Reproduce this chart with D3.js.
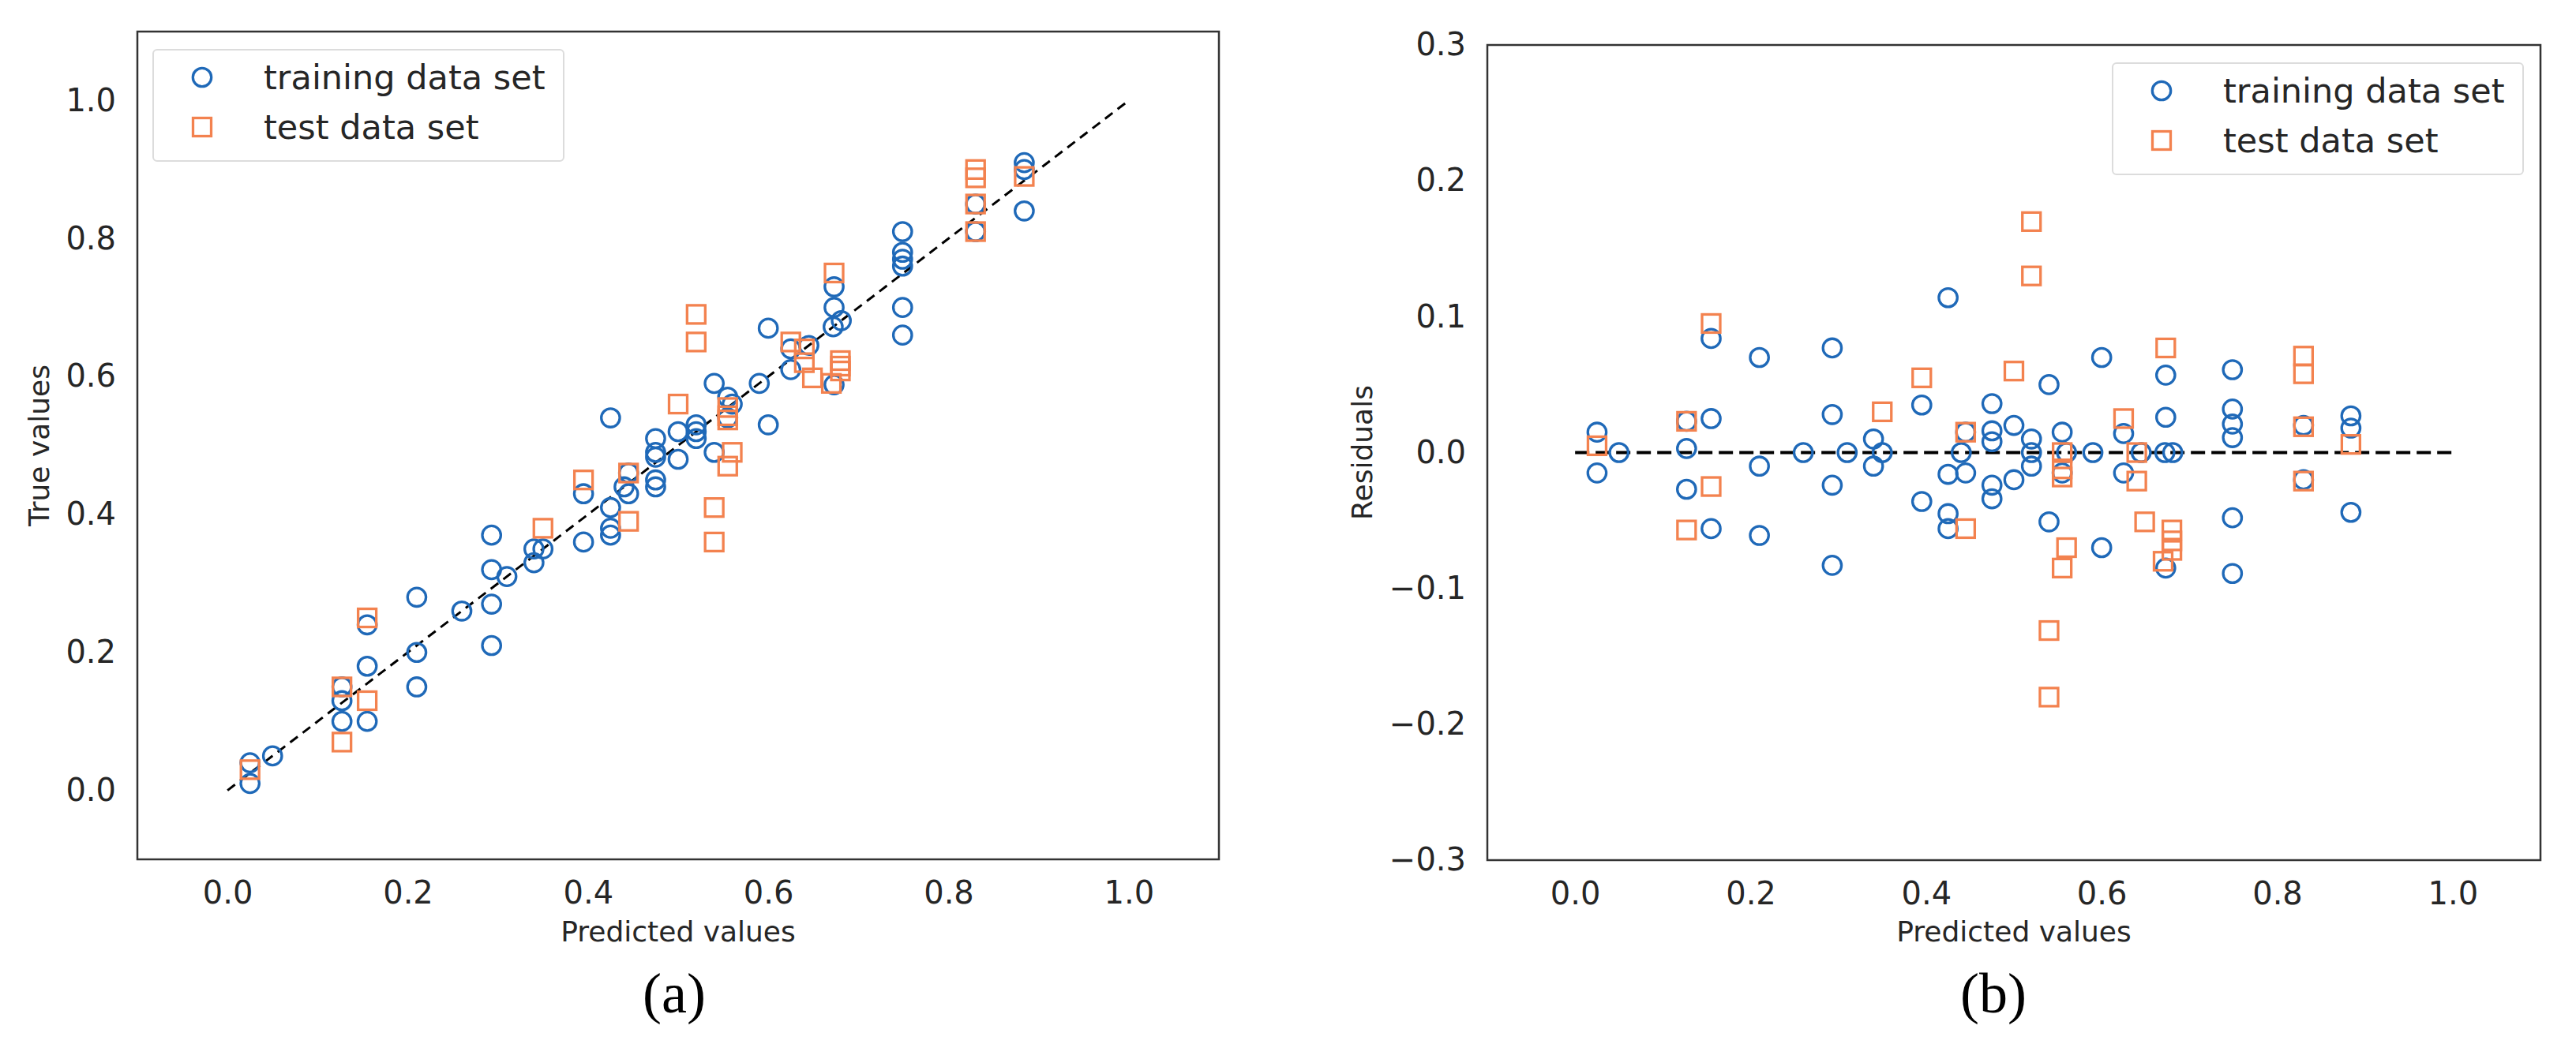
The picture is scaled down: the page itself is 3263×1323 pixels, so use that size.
<!DOCTYPE html>
<html>
<head>
<meta charset="utf-8">
<script src="https://cdn.jsdelivr.net/npm/d3@7"></script>
<style>
  body { margin: 0; background: #fff; }
</style>
</head>
<body>
<div id="container"></div>
<script>
// values: predicted value, true value, residual (true - predicted)

/* TRAINING DATA SET (circles) */
const trainPred = [0.025, 0.025, 0.05, 0.127, 0.127, 0.127, 0.155, 0.155, 0.155, 0.21,
  0.21, 0.21, 0.26, 0.293, 0.293, 0.293, 0.293, 0.31, 0.34, 0.34,
  0.35, 0.395, 0.395, 0.425, 0.425, 0.425, 0.425, 0.445, 0.44, 0.445,
  0.475, 0.475, 0.475, 0.475, 0.475, 0.50, 0.50, 0.52, 0.52, 0.52,
  0.54, 0.54, 0.555, 0.56, 0.555, 0.59, 0.60, 0.60, 0.625, 0.625,
  0.645, 0.673, 0.673, 0.672, 0.681, 0.673, 0.749, 0.749, 0.749, 0.749,
  0.749, 0.749, 0.83, 0.83, 0.884, 0.884, 0.884]
const trainTrue = [0.01, 0.04, 0.05, 0.15, 0.13, 0.10, 0.10, 0.18, 0.24, 0.28,
  0.20, 0.15, 0.26, 0.37, 0.32, 0.27, 0.21, 0.31, 0.35, 0.33,
  0.35, 0.43, 0.36, 0.54, 0.41, 0.38, 0.37, 0.46, 0.44, 0.43,
  0.51, 0.49, 0.483, 0.45, 0.44, 0.52, 0.48, 0.53, 0.52, 0.51,
  0.59, 0.49, 0.57, 0.56, 0.54, 0.59, 0.67, 0.53, 0.64, 0.61,
  0.645, 0.73, 0.70, 0.672, 0.681, 0.588, 0.81, 0.78, 0.77, 0.76,
  0.70, 0.66, 0.85, 0.81, 0.91, 0.90, 0.84]
const trainResid = [-0.015, 0.015, 0.0, 0.023, 0.003, -0.027, -0.056, 0.025, 0.084, 0.07,
  -0.01, -0.061, 0.0, 0.077, 0.028, -0.024, -0.083, 0.0, 0.01, -0.01,
  0.0, 0.035, -0.036, 0.114, -0.016, -0.045, -0.056, 0.015, 0.0, -0.015,
  0.036, 0.016, 0.008, -0.024, -0.034, 0.02, -0.02, 0.01, 0.0, -0.01,
  0.05, -0.051, 0.015, 0.0, -0.015, 0.0, 0.07, -0.07, 0.014, -0.015,
  0.0, 0.057, 0.026, 0.0, 0.0, -0.085, 0.061, 0.032, 0.021, 0.011,
  -0.048, -0.089, 0.02, -0.02, 0.027, 0.018, -0.044]

/* TEST DATA SET (squares) */
const testPred = [0.025, 0.127, 0.127, 0.155, 0.155, 0.35, 0.395, 0.445, 0.445, 0.50,
  0.52, 0.52, 0.54, 0.54, 0.555, 0.555, 0.555, 0.56, 0.555, 0.625,
  0.64, 0.64, 0.649, 0.673, 0.67, 0.68, 0.68, 0.68, 0.83, 0.83,
  0.83, 0.83, 0.884]
const testTrue = [0.03, 0.15, 0.07, 0.13, 0.25, 0.38, 0.45, 0.46, 0.39, 0.56,
  0.69, 0.65, 0.41, 0.36, 0.555, 0.543, 0.537, 0.49, 0.47, 0.65,
  0.64, 0.62, 0.598, 0.75, 0.59, 0.623, 0.615, 0.608, 0.90, 0.888,
  0.85, 0.81, 0.89]
const testResid = [0.005, 0.023, -0.057, -0.025, 0.095, 0.03, 0.055, 0.015, -0.056, 0.06,
  0.17, 0.13, -0.131, -0.18, 0.0, -0.012, -0.018, -0.07, -0.085, 0.025,
  0.0, -0.021, -0.051, 0.077, -0.08, -0.057, -0.065, -0.072, 0.071, 0.058,
  0.019, -0.021, 0.006]

/* TICKS AND LABELS */
const xTicks = [0, 0.2, 0.4, 0.6, 0.8, 1.0]
const trueTicks = [0, 0.2, 0.4, 0.6, 0.8, 1.0]
const residTicks = [-0.3, -0.2, -0.1, 0, 0.1, 0.2, 0.3]
const seriesNames = ["training data set", "test data set"]
const xLabel = "Predicted values"
const yLabels = ["True values", "Residuals"]
const panelLabels = ["(a)", "(b)"]

/* CONSTANTS AND GLOBALS */
const width = 3263
const height = 1323
const blue = "#1f69b8"
const orange = "#f3824f"
const textColor = "#262626"
const font = "DejaVu Sans, Verdana, sans-serif"

const svg = d3.select("#container")
  .append("svg")
  .attr("width", width)
  .attr("height", height)
  .style("display", "block")

svg.append("rect").attr("width", width).attr("height", height).attr("fill", "#fff")

// one panel = frame, ref line, points, axes, legend
function drawPanel(p) {
  const xScale = d3.scaleLinear().domain([-0.1, 1.1]).range([p.left, p.right])
  const yScale = d3.scaleLinear().domain(p.yDomain).range([p.bottom, p.top])
  const g = svg.append("g")

  // DASHED REFERENCE LINE
  g.append("line")
    .attr("x1", xScale(0)).attr("y1", yScale(p.refLine[0]))
    .attr("x2", xScale(1)).attr("y2", yScale(p.refLine[1]))
    .attr("stroke", "#000")
    .attr("stroke-width", p.dashWidth)
    .attr("stroke-dasharray", p.dash)

  // POINTS
  const train = trainPred.map((d, i) => ({ x: d, y: p.trainY[i] }))
  const test = testPred.map((d, i) => ({ x: d, y: p.testY[i] }))

  g.append("g").selectAll("circle")
    .data(train)
    .join("circle")
      .attr("cx", d => xScale(d.x))
      .attr("cy", d => yScale(d.y))
      .attr("r", 11.7)
      .attr("fill", "none")
      .attr("stroke", blue)
      .attr("stroke-width", 3.3)

  g.append("g").selectAll("rect")
    .data(test)
    .join("rect")
      .attr("x", d => xScale(d.x) - 11.5)
      .attr("y", d => yScale(d.y) - 11.5)
      .attr("width", 23)
      .attr("height", 23)
      .attr("fill", "none")
      .attr("stroke", orange)
      .attr("stroke-width", 3.3)

  // AXES (no tick marks, seaborn white style)
  const xAxis = d3.axisBottom(xScale)
    .tickValues(xTicks)
    .tickSize(0)
    .tickPadding(28)
    .tickFormat(d3.format(".1f"))

  const xAxisGroup = g.append("g")
    .attr("transform", `translate(0, ${p.bottom})`)
    .call(xAxis)
  xAxisGroup.select(".domain").remove()
  xAxisGroup.attr("font-size", 40).attr("font-family", font).attr("color", textColor)

  const yAxis = d3.axisLeft(yScale)
    .tickValues(p.yTicks)
    .tickSize(0)
    .tickPadding(27)
    .tickFormat(d3.format(".1f"))

  const yAxisGroup = g.append("g")
    .attr("transform", `translate(${p.left}, 0)`)
    .call(yAxis)
  yAxisGroup.select(".domain").remove()
  yAxisGroup.attr("font-size", 40).attr("font-family", font).attr("color", textColor)

  // FRAME
  g.append("rect")
    .attr("x", p.left).attr("y", p.top)
    .attr("width", p.right - p.left)
    .attr("height", p.bottom - p.top)
    .attr("fill", "none")
    .attr("stroke", "#333")
    .attr("stroke-width", 2.5)

  // AXIS LABELS
  g.append("text")
    .attr("x", (p.left + p.right) / 2)
    .attr("y", 1193)
    .attr("text-anchor", "middle")
    .attr("font-family", font)
    .attr("font-size", 36)
    .attr("fill", textColor)
    .text(xLabel)

  g.append("text")
    .attr("transform", `translate(${p.yLabelX}, ${(p.top + p.bottom) / 2}) rotate(-90)`)
    .attr("text-anchor", "middle")
    .attr("font-family", font)
    .attr("font-size", 36)
    .attr("fill", textColor)
    .text(p.yLabel)

  // LEGEND
  const legend = g.append("g")
    .attr("transform", `translate(${p.legend[0]}, ${p.legend[1]})`)

  legend.append("rect")
    .attr("width", 520).attr("height", 141)
    .attr("rx", 5)
    .attr("fill", "#fff")
    .attr("stroke", "#dcdcdc")
    .attr("stroke-width", 2)

  legend.append("circle")
    .attr("cx", 62).attr("cy", 35).attr("r", 11.7)
    .attr("fill", "none").attr("stroke", blue).attr("stroke-width", 3.3)

  legend.append("rect")
    .attr("x", 62 - 11.5).attr("y", 98 - 11.5).attr("width", 23).attr("height", 23)
    .attr("fill", "none").attr("stroke", orange).attr("stroke-width", 3.3)

  legend.selectAll(".legendText")
    .data(seriesNames)
    .join("text")
      .attr("x", 140)
      .attr("y", (d, i) => i === 0 ? 35 : 98)
      .attr("dy", "0.35em")
      .attr("font-family", font)
      .attr("font-size", 43)
      .attr("fill", textColor)
      .text(d => d)

  // PANEL LABEL
  svg.append("text")
    .attr("x", p.tagX)
    .attr("y", 1283)
    .attr("text-anchor", "middle")
    .attr("font-family", "Liberation Serif, Times New Roman, serif")
    .attr("font-size", 72)
    .attr("fill", "#000")
    .text(p.tag)
}

drawPanel({
  left: 174, right: 1544, top: 40, bottom: 1089,
  yDomain: [-0.1, 1.1], yTicks: trueTicks,
  trainY: trainTrue, testY: testTrue,
  refLine: [0, 1], dash: "12 8", dashWidth: 3,
  yLabel: yLabels[0], yLabelX: 62,
  legend: [194, 63],
  tag: panelLabels[0], tagX: 854
})

drawPanel({
  left: 1884, right: 3218, top: 57, bottom: 1090,
  yDomain: [-0.3, 0.3], yTicks: residTicks,
  trainY: trainResid, testY: testResid,
  refLine: [0, 0], dash: "18 8", dashWidth: 4,
  yLabel: yLabels[1], yLabelX: 1738,
  legend: [2676, 80],
  tag: panelLabels[1], tagX: 2525
})
</script>
</body>
</html>
